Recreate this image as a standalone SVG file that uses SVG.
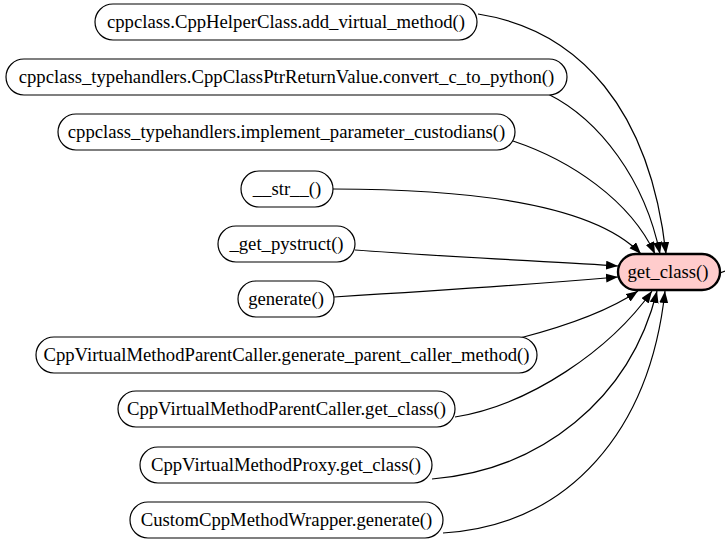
<svg xmlns="http://www.w3.org/2000/svg" width="725" height="547" viewBox="0 0 725 547">
<style>
.n rect{fill:#fff;stroke:#000;stroke-width:1.2}
.t rect{fill:#ffcccc;stroke:#000;stroke-width:2.4}
text{font-family:"Liberation Serif","Times New Roman",serif;font-size:18.7px;text-anchor:middle;fill:#000}
.e path{fill:none;stroke:#000;stroke-width:1.2}
</style>
<defs>
<marker id="a" markerUnits="userSpaceOnUse" markerWidth="13" markerHeight="10" refX="12" refY="4.5" orient="auto">
<path d="M0,0 L12,4.5 L0,9 z" fill="#000"/>
</marker>
</defs>
<rect width="725" height="547" fill="#fff"/>
<g class="e" id="edges">
<path marker-end="url(#a)" d="M478,14 C580,30 650,110 666,254"/>
<path marker-end="url(#a)" d="M548,94 C600,120 645,180 660,254"/>
<path marker-end="url(#a)" d="M513,141 C570,160 630,200 655,254"/>
<path marker-end="url(#a)" d="M333,189 C450,189 590,200 641,254"/>
<path marker-end="url(#a)" d="M355,250 C450,257 560,262 618,266"/>
<path marker-end="url(#a)" d="M334,297 C450,290 560,282 618,277"/>
<path marker-end="url(#a)" d="M520,338 C570,325 610,310 638,291"/>
<path marker-end="url(#a)" d="M455,417 C530,405 610,350 652,291"/>
<path marker-end="url(#a)" d="M432,479 C540,470 630,400 657,291"/>
<path marker-end="url(#a)" d="M443,533 C570,525 650,430 665,291"/>
<path d="M720,273 L725,271"/>
</g>
<g id="target" class="t"><rect x="618" y="254" width="102" height="36" rx="18"/><text x="668" y="278">get_class()</text></g>
<g id="n1" class="n"><rect x="95" y="4" width="382" height="36" rx="18"/><text x="286" y="28">cppclass.CppHelperClass.add_virtual_method()</text></g>
<g id="n2" class="n"><rect x="6" y="59" width="561" height="36" rx="18"/><text x="286.5" y="83">cppclass_typehandlers.CppClassPtrReturnValue.convert_c_to_python()</text></g>
<g id="n3" class="n"><rect x="58" y="114" width="457" height="36" rx="18"/><text x="286.5" y="138">cppclass_typehandlers.implement_parameter_custodians()</text></g>
<g id="n4" class="n"><rect x="241" y="171" width="92" height="36" rx="18"/><text x="287" y="195">__str__()</text></g>
<g id="n5" class="n"><rect x="218" y="226" width="137" height="36" rx="18"/><text x="286.5" y="250">_get_pystruct()</text></g>
<g id="n6" class="n"><rect x="238" y="281" width="96" height="36" rx="18"/><text x="286" y="305">generate()</text></g>
<g id="n7" class="n"><rect x="36" y="337" width="501" height="36" rx="18"/><text x="286.5" y="361">CppVirtualMethodParentCaller.generate_parent_caller_method()</text></g>
<g id="n8" class="n"><rect x="118" y="391" width="337" height="36" rx="18"/><text x="286.5" y="415">CppVirtualMethodParentCaller.get_class()</text></g>
<g id="n9" class="n"><rect x="140" y="447" width="292" height="36" rx="18"/><text x="286" y="471">CppVirtualMethodProxy.get_class()</text></g>
<g id="n10" class="n"><rect x="130" y="502" width="313" height="36" rx="18"/><text x="286.5" y="526">CustomCppMethodWrapper.generate()</text></g>
</svg>
